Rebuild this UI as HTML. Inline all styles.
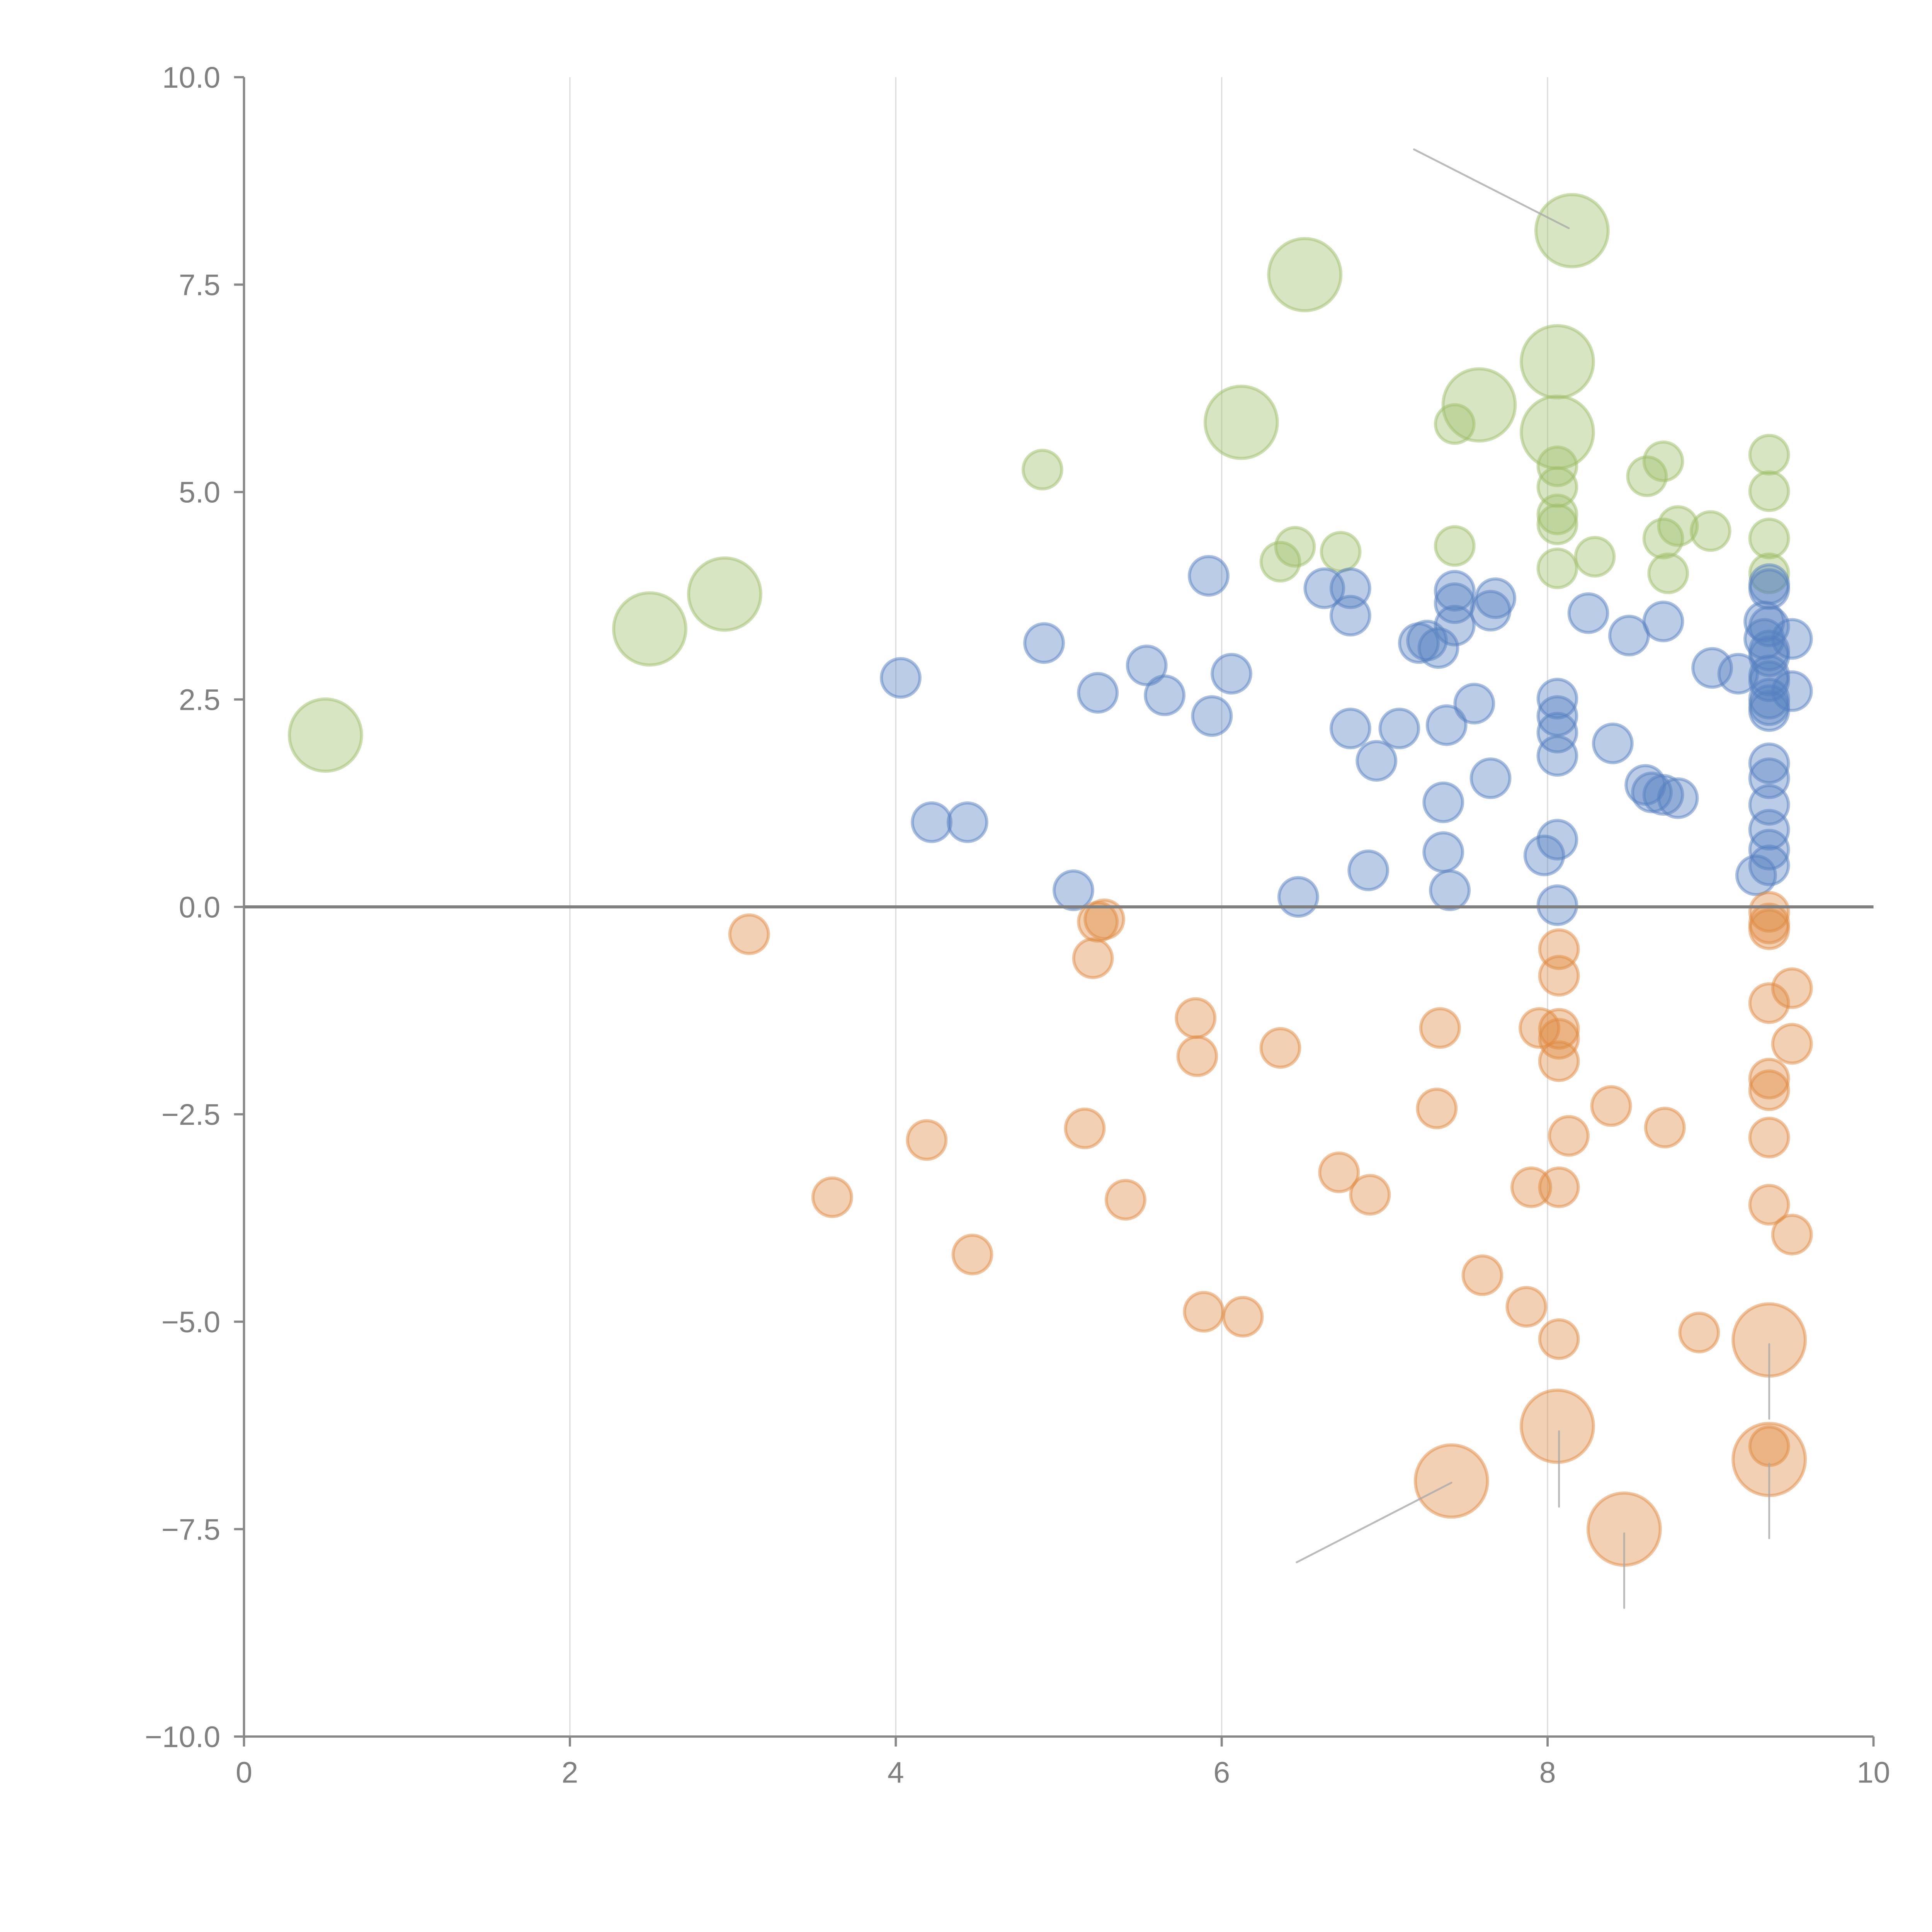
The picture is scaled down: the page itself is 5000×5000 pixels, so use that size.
<!DOCTYPE html>
<html><head><meta charset="utf-8"><style>
html,body{margin:0;padding:0;background:#fff;}
svg{display:block;}
text{font-family:"Liberation Sans",Arial,sans-serif;fill:#808080;}
</style></head><body>
<svg id="chart" width="5000" height="5000" viewBox="0 0 1552 1552" xmlns="http://www.w3.org/2000/svg">
<g id="grid"></g>
<g id="marks"></g>
<g id="axes"></g>
</svg>
<script>
const xTicks=[0,2,4,6,8,10];
const yTicks=[-10,-7.5,-5,-2.5,0,2.5,5,7.5,10];
const yTickLabels=["−10.0","−7.5","−5.0","−2.5","0.0","2.5","5.0","7.5","10.0"];
const greenX=[0.50,2.49,2.95,4.90,6.51,6.12,6.36,6.45,6.73,7.43,7.58,7.43,8.15,8.06,8.06,8.06,8.06,8.06,8.06,8.06,8.29,8.61,8.71,8.71,8.80,8.74,9.00,9.36,9.36,9.36,9.36];
const greenY=[2.07,3.35,3.77,5.27,7.62,5.84,4.16,4.34,4.28,5.82,6.05,4.35,8.15,6.57,5.72,5.31,5.06,4.73,4.61,4.08,4.22,5.19,5.37,4.44,4.59,4.02,4.53,5.45,5.01,4.44,4.02];
const greenS=[2,2,2,1,2,2,1,1,1,1,2,1,2,2,2,1,1,1,1,1,1,1,1,1,1,1,1,1,1,1,1];
const blueX=[4.03,4.22,4.44,4.91,5.09,5.24,5.54,5.65,5.92,5.94,6.06,6.47,6.63,6.79,6.79,6.79,6.90,6.95,7.09,7.21,7.26,7.33,7.36,7.36,7.38,7.40,7.43,7.43,7.43,7.55,7.65,7.65,7.68,7.98,8.06,8.06,8.06,8.06,8.06,8.06,8.25,8.40,8.50,8.60,8.64,8.71,8.71,8.80,9.01,9.17,9.28,9.36,9.36,9.33,9.36,9.33,9.36,9.36,9.36,9.36,9.36,9.36,9.36,9.50,9.50,9.36,9.36,9.36,9.36,9.36,9.36];
const blueY=[2.76,1.02,1.02,3.18,0.20,2.58,2.91,2.55,3.99,2.30,2.81,0.12,3.84,3.84,3.51,2.15,0.44,1.76,2.15,3.18,3.21,3.12,1.26,0.66,2.19,0.20,3.81,3.66,3.39,2.45,3.57,1.55,3.72,0.62,2.51,2.30,2.10,1.82,0.81,0.02,3.54,1.97,3.27,1.47,1.38,3.44,1.35,1.31,2.88,2.81,0.38,3.89,3.83,3.44,3.38,3.23,3.09,3.02,2.79,2.72,2.51,2.43,2.36,3.23,2.60,1.73,1.55,1.23,0.93,0.69,0.50];
const orangeX=[3.10,3.61,4.19,4.47,5.16,5.21,5.24,5.28,5.41,5.84,5.85,5.89,6.13,6.36,6.72,6.91,7.32,7.34,7.41,7.60,7.87,7.90,7.95,8.06,8.07,8.07,8.07,8.07,8.07,8.07,8.07,8.13,8.39,8.47,8.72,8.93,9.36,9.36,9.36,9.36,9.50,9.50,9.36,9.36,9.36,9.36,9.50,9.36,9.36,9.36];
const orangeY=[-0.33,-3.50,-2.81,-4.19,-2.67,-0.62,-0.18,-0.15,-3.53,-1.34,-1.80,-4.88,-4.94,-1.70,-3.20,-3.47,-2.43,-1.46,-6.92,-4.44,-4.82,-3.38,-1.46,-6.26,-0.51,-0.83,-1.47,-1.59,-1.86,-3.38,-5.21,-2.76,-2.40,-7.50,-2.66,-5.13,-0.06,-0.20,-0.27,-1.16,-0.98,-1.65,-2.07,-2.21,-2.78,-3.59,-3.95,-5.22,-6.66,-6.50];
const orangeS=[1,1,1,1,1,1,1,1,1,1,1,1,1,1,1,1,1,1,2,1,1,1,1,2,1,1,1,1,1,1,1,1,1,2,1,1,1,1,1,1,1,1,1,1,1,1,1,2,2,1];
const leaderX1=[7.18,6.46,8.07,9.36,9.36,8.47];
const leaderY1=[9.13,-7.90,-6.32,-5.27,-6.71,-7.55];
const leaderX2=[8.13,7.41,8.07,9.36,9.36,8.47];
const leaderY2=[8.18,-6.94,-7.23,-6.17,-7.61,-8.45];

const NS="http://www.w3.org/2000/svg";
const X0=196,X1=1505,Y0=1395,Y1=62;
function sx(v){return X0+(v-0)/(10-0)*(X1-X0);}
function sy(v){return Y0-(v+10)/20*(Y0-Y1);}
function rad(s){return s===2?29:15.5;}
function mk(tag,attrs,parent){const e=document.createElementNS(NS,tag);for(const k in attrs)e.setAttribute(k,attrs[k]);parent.appendChild(e);return e;}
const grid=document.getElementById('grid'),marks=document.getElementById('marks'),axes=document.getElementById('axes');
xTicks.forEach(t=>{if(t>0&&t<10){const l=mk('line',{x1:sx(t),x2:sx(t),y1:Y1,y2:Y0,stroke:'#dcdcdc','stroke-width':1},grid);

}});
function series(xs,ys,ss,fill,stroke,name){xs.forEach((x,i)=>{const c=mk('circle',{cx:sx(x),cy:sy(ys[i]),r:rad(ss?ss[i]:1),fill:fill,'fill-opacity':0.4,stroke:stroke,'stroke-opacity':0.5,'stroke-width':2.5},marks);

});}
series(greenX,greenY,greenS,'#9dbd67','#9dbd67','green-bubble');
series(blueX,blueY,null,'#5580c0','#5580c0','blue-bubble');
series(orangeX,orangeY,orangeS,'#df8a40','#df8a40','orange-bubble');
leaderX1.forEach((x,i)=>{const l=mk('line',{x1:sx(x),y1:sy(leaderY1[i]),x2:sx(leaderX2[i]),y2:sy(leaderY2[i]),stroke:'#aaa','stroke-opacity':0.8,'stroke-width':1.5,'stroke-linecap':'round'},marks);

});
const zl=mk('line',{x1:X0,x2:X1,y1:sy(0),y2:sy(0),stroke:'#808080','stroke-width':2.5},axes);


const ya=mk('line',{x1:X0,x2:X0,y1:Y1,y2:Y0,stroke:'#888','stroke-width':1.8},axes);


const xa=mk('line',{x1:X0,x2:X1,y1:Y0,y2:Y0,stroke:'#888','stroke-width':1.8},axes);


yTicks.forEach((t,i)=>{const tk=mk('line',{x1:X0-8,x2:X0,y1:sy(t),y2:sy(t),stroke:'#888','stroke-width':1.8},axes);


const tx=mk('text',{x:X0-19,y:sy(t)+8.5,'text-anchor':'end','font-size':24},axes);tx.textContent=yTickLabels[i];

});
xTicks.forEach(t=>{const tk=mk('line',{x1:sx(t),x2:sx(t),y1:Y0,y2:Y0+8,stroke:'#888','stroke-width':1.8},axes);


const tx=mk('text',{x:sx(t),y:Y0+37,'text-anchor':'middle','font-size':24},axes);tx.textContent=String(t);

});
</script>
</body></html>
